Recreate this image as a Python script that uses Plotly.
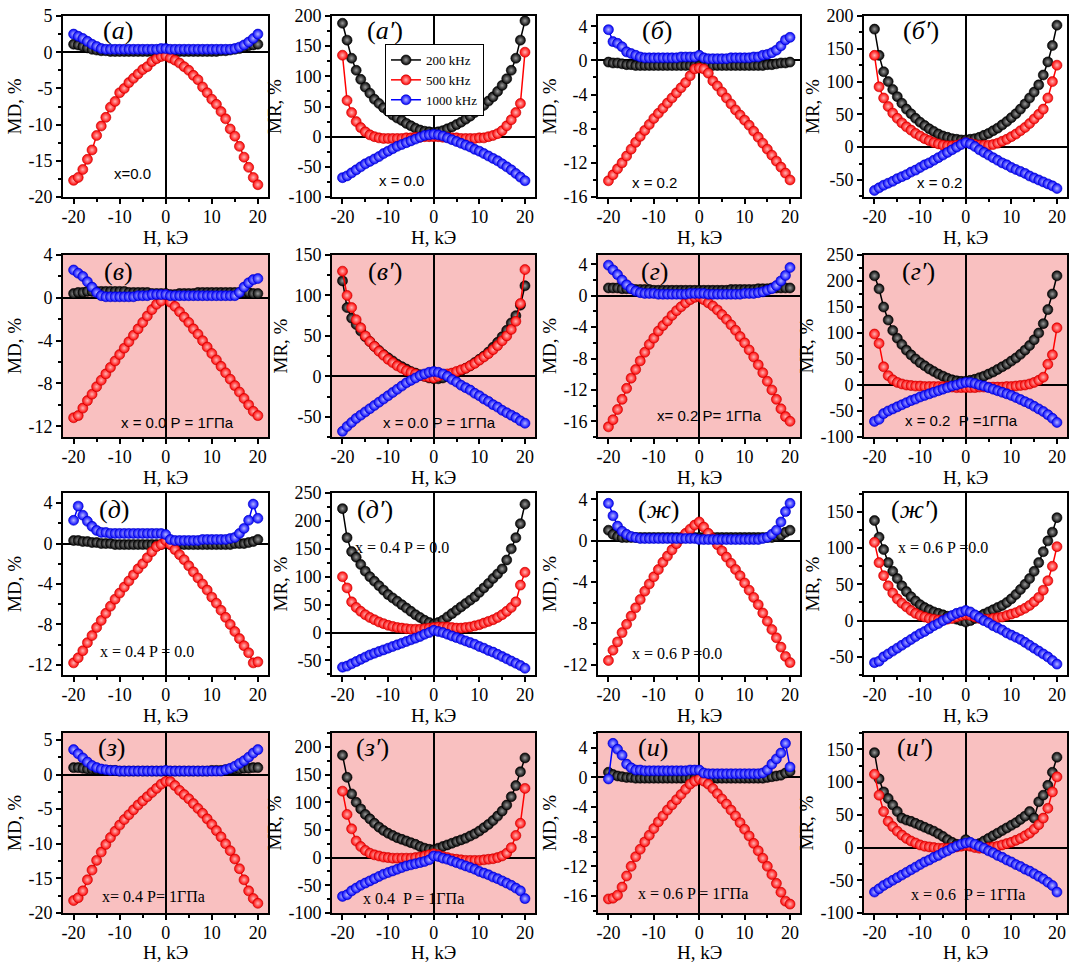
import plotly.graph_objects as go
from plotly.subplots import make_subplots

# ---------------- data ----------------
H = [-20, -19, -18, -17, -16, -15, -14, -13, -12, -11,
     -10, -9, -8, -7, -6, -5, -4, -3, -2, -1,
     0, 1, 2, 3, 4, 5, 6, 7, 8, 9,
     10, 11, 12, 13, 14, 15, 16, 17, 18, 19, 20]

SERIES = ["200 kHz", "500 kHz", "1000 kHz"]

# (a) MD x=0.0
a_200 = [1.1, 1.0, 0.8, 0.6, 0.4, 0.3, 0.2, 0.2, 0.1, 0.1,
         0.1, 0.1, 0.1, 0.1, 0.1, 0.1, 0.1, 0.1, 0.1, 0.1,
         0.1, 0.1, 0.1, 0.1, 0.1, 0.1, 0.1, 0.1, 0.1, 0.1,
         0.1, 0.1, 0.2, 0.2, 0.3, 0.4, 0.5, 0.7, 0.9, 1.0, 1.1]
a_500 = [-17.7, -17.3, -16.2, -14.8, -13.5, -11.5, -10.2, -9.0, -7.6, -6.8,
         -5.6, -5.0, -4.2, -3.6, -3.0, -2.4, -2.0, -1.3, -0.9, -0.6,
         -0.5, -0.8, -1.1, -1.5, -2.0, -2.5, -3.2, -3.8, -4.8, -5.6,
         -6.5, -7.2, -8.2, -9.2, -10.6, -11.6, -13.0, -14.5, -15.9, -17.3, -18.3]
a_1000 = [2.5, 2.2, 1.9, 1.5, 1.1, 0.8, 0.5, 0.4, 0.4, 0.4,
          0.4, 0.4, 0.4, 0.4, 0.4, 0.4, 0.4, 0.4, 0.4, 0.5,
          0.5, 0.4, 0.4, 0.4, 0.4, 0.4, 0.4, 0.4, 0.4, 0.4,
          0.4, 0.4, 0.4, 0.4, 0.4, 0.5, 0.7, 1.0, 1.4, 1.9, 2.5]
# (a') MR x=0.0
ap_200 = [188, 160, 130, 110, 95, 82, 72, 62, 55, 48,
          42, 36, 31, 27, 22, 18, 14, 11, 9, 8,
          7, 8, 10, 13, 16, 20, 24, 29, 34, 40,
          46, 52, 59, 66, 75, 85, 96, 110, 130, 160, 192]
ap_500 = [135, 60, 40, 25, 15, 8, 3, 0, -2, -3,
          -3, -3, -3, -3, -2, -2, -1, -1, 0, 0,
          0, 0, -1, -1, -2, -2, -3, -3, -3, -3,
          -2, -2, 0, 2, 5, 10, 18, 28, 40, 55, 140]
ap_1000 = [-68, -65, -60, -55, -50, -45, -41, -37, -33, -28,
           -24, -20, -16, -13, -10, -7, -4, -1, 2, 3,
           4, 3, 1, -2, -5, -8, -11, -14, -17, -21,
           -24, -28, -32, -36, -40, -45, -50, -55, -61, -67, -73]
# (б) MD x=0.2
b_200 = [-0.2, -0.3, -0.3, -0.4, -0.5, -0.5, -0.6, -0.6, -0.6, -0.6,
         -0.6, -0.6, -0.6, -0.6, -0.6, -0.6, -0.6, -0.6, -0.6, -0.6,
         -0.6, -0.6, -0.6, -0.6, -0.6, -0.6, -0.6, -0.6, -0.6, -0.6,
         -0.6, -0.6, -0.6, -0.6, -0.6, -0.5, -0.5, -0.4, -0.3, -0.3, -0.2]
b_500 = [-14.1, -13.4, -12.7, -12.0, -11.2, -10.4, -9.6, -8.9, -8.2, -7.5,
         -6.8, -6.2, -5.6, -5.0, -4.4, -3.8, -3.2, -2.6, -1.8, -1.0,
         -0.9, -1.0, -1.5, -2.4, -3.0, -3.7, -4.4, -5.1, -5.8, -6.4,
         -7.0, -7.6, -8.3, -9.0, -9.7, -10.4, -11.1, -11.8, -12.5, -13.2, -14.0]
b_1000 = [3.6, 2.2, 2.0, 1.6, 1.0, 0.8, 0.6, 0.4, 0.3, 0.3,
          0.3, 0.3, 0.3, 0.3, 0.3, 0.3, 0.4, 0.4, 0.4, 0.4,
          0.6, 0.3, 0.2, 0.2, 0.2, 0.2, 0.2, 0.3, 0.3, 0.3,
          0.3, 0.3, 0.4, 0.4, 0.6, 0.7, 0.9, 1.2, 1.7, 2.4, 2.7]
# (б') MR x=0.2
bp_200 = [180, 140, 115, 100, 88, 77, 67, 58, 51, 44,
          38, 33, 28, 24, 20, 17, 15, 13, 12, 11,
          11, 12, 13, 15, 18, 21, 25, 29, 34, 39,
          45, 51, 58, 66, 75, 84, 95, 110, 130, 155, 186]
bp_500 = [140, 92, 75, 62, 52, 44, 37, 31, 26, 21,
          17, 13, 10, 7, 5, 3, 2, 2, 3, 5,
          7, 6, 4, 3, 3, 3, 4, 6, 9, 12,
          16, 20, 25, 30, 36, 43, 50, 58, 75, 100, 125]
bp_1000 = [-66, -62, -58, -55, -52, -48, -45, -42, -38, -35,
           -31, -27, -24, -20, -16, -12, -8, -4, 0, 4,
           7, 5, 1, -4, -8, -12, -16, -20, -24, -27,
           -31, -34, -37, -40, -44, -47, -50, -53, -56, -59, -63]
# (в) MD x=0.0 P=1GPa
v_200 = [0.4, 0.5, 0.5, 0.6, 0.6, 0.6, 0.6, 0.6, 0.6, 0.6,
         0.6, 0.6, 0.5, 0.5, 0.5, 0.5, 0.5, 0.4, 0.4, 0.4,
         0.4, 0.3, 0.3, 0.4, 0.4, 0.4, 0.4, 0.5, 0.5, 0.5,
         0.5, 0.5, 0.5, 0.5, 0.5, 0.5, 0.5, 0.5, 0.5, 0.4, 0.4]
v_500 = [-11.2, -11.0, -10.3, -9.6, -9.0, -8.3, -7.7, -7.1, -6.5, -5.9,
         -5.3, -4.7, -4.1, -3.5, -2.9, -2.3, -1.7, -1.1, -0.6, -0.3,
         0.3, -0.4, -0.8, -1.3, -1.8, -2.3, -2.9, -3.4, -4.0, -4.6,
         -5.2, -5.8, -6.4, -7.0, -7.6, -8.2, -8.8, -9.4, -10.0, -10.6, -11.0]
v_1000 = [2.6, 2.3, 2.0, 1.5, 1.0, 0.5, 0.2, 0.1, 0.1, 0.1,
          0.1, 0.1, 0.1, 0.1, 0.2, 0.2, 0.2, 0.3, 0.3, 0.3,
          0.3, 0.2, 0.2, 0.2, 0.2, 0.2, 0.2, 0.2, 0.2, 0.2,
          0.2, 0.2, 0.2, 0.2, 0.2, 0.2, 0.5, 1.0, 1.4, 1.7, 1.8]
# (в') MR x=0.0 P=1GPa
vp_200 = [118, 85, 72, 64, 56, 49, 43, 37, 32, 27,
          23, 19, 15, 12, 9, 6, 4, 2, 0, -2,
          -3, -3, -2, 0, 2, 4, 7, 10, 13, 17,
          21, 25, 30, 36, 42, 49, 57, 66, 75, 88, 112]
vp_500 = [130, 100, 85, 70, 60, 50, 43, 37, 31, 26,
          21, 17, 13, 10, 7, 5, 3, 1, 0, -1,
          -2, 0, 2, 3, 4, 6, 8, 10, 13, 16,
          20, 24, 28, 33, 38, 44, 50, 58, 68, 90, 132]
vp_1000 = [-68, -62, -57, -52, -48, -44, -40, -36, -32, -28,
           -24, -20, -16, -12, -8, -5, -2, 1, 3, 5,
           6, 5, 3, 0, -4, -7, -11, -14, -17, -21,
           -24, -28, -31, -35, -38, -42, -45, -48, -51, -55, -58]
# (г) MD x=0.2 P=1GPa
g_200 = [1.0, 1.0, 1.0, 0.9, 0.9, 0.9, 0.8, 0.8, 0.8, 0.8,
         0.7, 0.7, 0.7, 0.7, 0.7, 0.7, 0.7, 0.7, 0.7, 0.7,
         0.7, 0.7, 0.7, 0.7, 0.7, 0.7, 0.7, 0.8, 0.8, 0.8,
         0.8, 0.8, 0.8, 0.9, 0.9, 0.9, 1.0, 1.0, 1.0, 1.0, 1.0]
g_500 = [-16.7, -15.8, -14.5, -13.2, -11.8, -10.5, -9.4, -8.3, -7.2, -6.2,
         -5.4, -4.5, -3.8, -3.2, -2.5, -1.9, -1.4, -0.9, -0.5, -0.2,
         -0.1, -0.5, -0.9, -1.3, -1.8, -2.4, -3.0, -3.7, -4.4, -5.2,
         -6.0, -6.9, -7.8, -8.8, -9.8, -10.9, -12.0, -13.2, -14.4, -15.4, -16.0]
g_1000 = [3.9, 3.3, 2.7, 2.0, 1.4, 0.9, 0.6, 0.4, 0.3, 0.3,
          0.3, 0.2, 0.2, 0.2, 0.2, 0.2, 0.2, 0.2, 0.3, 0.3,
          0.3, 0.3, 0.2, 0.2, 0.2, 0.2, 0.2, 0.2, 0.2, 0.2,
          0.3, 0.3, 0.3, 0.4, 0.5, 0.7, 0.9, 1.3, 1.9, 2.6, 3.6]
# (г') MR x=0.2 P=1GPa
gp_200 = [210, 185, 150, 125, 105, 90, 78, 67, 58, 50,
          43, 37, 31, 26, 21, 17, 13, 10, 8, 7,
          7, 9, 11, 14, 17, 21, 25, 30, 35, 40,
          46, 52, 59, 67, 76, 87, 100, 118, 145, 175, 210]
gp_500 = [98, 80, 35, 18, 10, 5, 2, 0, -1, -2,
          -2, -3, -3, -3, -3, -3, -3, -4, -5, -5,
          -5, -5, -5, -4, -4, -4, -4, -4, -4, -3,
          -3, -2, -1, 0, 2, 5, 9, 15, 40, 58, 110]
gp_1000 = [-70, -66, -55, -50, -46, -42, -38, -34, -30, -27,
           -23, -20, -17, -14, -11, -8, -5, -2, 0, 3,
           5, 5, 3, 0, -2, -5, -8, -11, -14, -17,
           -20, -24, -28, -32, -36, -41, -46, -51, -57, -64, -72]
# (д) MD x=0.4 P=0
d_200 = [0.3, 0.3, 0.2, 0.2, 0.1, 0.1, 0.0, 0.0, 0.0, -0.1,
         -0.1, -0.1, -0.1, -0.1, -0.1, -0.1, -0.1, -0.1, -0.1, -0.1,
         0.0, -0.1, -0.1, -0.1, -0.1, -0.1, -0.1, -0.1, -0.1, -0.1,
         -0.1, -0.1, -0.1, -0.1, -0.1, 0.0, 0.0, 0.0, 0.1, 0.2, 0.4]
d_500 = [-11.8, -11.3, -10.6, -9.8, -9.1, -8.3, -7.6, -6.9, -6.2, -5.5,
         -4.9, -4.3, -3.7, -3.1, -2.5, -2.0, -1.4, -0.8, -0.3, -0.1,
         0.3, -0.1, -0.6, -1.1, -1.6, -2.2, -2.8, -3.4, -4.0, -4.6,
         -5.3, -5.9, -6.6, -7.3, -8.0, -8.7, -9.4, -10.1, -10.8, -11.8, -11.7]
d_1000 = [2.3, 3.7, 2.8, 2.2, 1.7, 1.3, 1.1, 1.1, 1.0, 1.0,
          1.0, 1.0, 1.0, 1.0, 1.0, 1.0, 1.0, 1.0, 1.0, 1.0,
          0.9, 0.4, 0.3, 0.3, 0.3, 0.3, 0.3, 0.3, 0.4, 0.4,
          0.4, 0.4, 0.4, 0.4, 0.5, 0.6, 1.0, 1.5, 2.3, 3.9, 2.5]
# (д') MR x=0.4 P=0
dp_200 = [222, 170, 145, 135, 122, 110, 100, 92, 84, 76,
          68, 62, 56, 50, 44, 38, 32, 27, 22, 18,
          15, 18, 22, 28, 34, 40, 46, 52, 58, 64,
          72, 80, 88, 97, 105, 114, 130, 150, 170, 195, 230]
dp_500 = [100, 80, 55, 45, 38, 32, 27, 23, 19, 16,
          13, 11, 9, 8, 7, 6, 6, 6, 7, 8,
          9, 10, 10, 10, 9, 8, 8, 9, 10, 12,
          14, 17, 20, 23, 27, 32, 38, 45, 55, 85, 108]
dp_1000 = [-62, -60, -56, -52, -48, -44, -40, -37, -34, -31,
           -28, -25, -22, -19, -16, -13, -10, -7, -3, 0,
           4, 2, 0, -3, -6, -9, -12, -15, -18, -21,
           -25, -28, -32, -35, -39, -43, -47, -51, -55, -59, -64]
# (ж) MD x=0.6 P=0
zh_200 = [1.0, 0.6, 0.4, 0.3, 0.3, 0.3, 0.3, 0.3, 0.3, 0.3,
          0.3, 0.3, 0.3, 0.3, 0.3, 0.3, 0.3, 0.3, 0.3, 0.3,
          0.3, 0.3, 0.3, 0.3, 0.3, 0.3, 0.3, 0.3, 0.3, 0.3,
          0.3, 0.3, 0.3, 0.3, 0.3, 0.3, 0.3, 0.4, 0.5, 0.8, 1.0]
zh_500 = [-11.6, -10.6, -9.8, -8.9, -8.1, -7.3, -6.5, -5.7, -4.9, -4.2,
          -3.5, -2.8, -2.1, -1.5, -0.9, -0.3, 0.2, 0.7, 1.1, 1.5,
          1.8, 1.3, 0.7, 0.2, -0.4, -1.0, -1.6, -2.2, -2.8, -3.4,
          -4.1, -4.8, -5.5, -6.2, -7.0, -7.8, -8.6, -9.4, -10.3, -11.2, -11.8]
zh_1000 = [3.6, 2.4, 1.4, 0.9, 0.6, 0.4, 0.3, 0.2, 0.2, 0.2,
           0.2, 0.2, 0.2, 0.2, 0.2, 0.2, 0.2, 0.2, 0.2, 0.2,
           0.1, 0.1, 0.1, 0.1, 0.1, 0.1, 0.1, 0.1, 0.1, 0.1,
           0.1, 0.1, 0.1, 0.1, 0.2, 0.3, 0.6, 1.0, 1.8, 2.8, 3.6]
# (ж') MR x=0.6 P=0
zhp_200 = [138, 115, 98, 80, 68, 58, 48, 40, 33, 27,
           22, 18, 15, 12, 10, 8, 6, 4, 2, 0,
           -2, 0, 3, 6, 9, 12, 15, 18, 21, 25,
           30, 36, 43, 50, 58, 68, 80, 95, 110, 122, 142]
zhp_500 = [108, 80, 62, 48, 38, 30, 24, 19, 14, 10,
           7, 5, 3, 2, 1, 1, 2, 3, 5, 7,
           8, 7, 5, 3, 2, 2, 3, 4, 5, 7,
           9, 11, 14, 17, 21, 26, 32, 42, 55, 75, 102]
zhp_1000 = [-58, -56, -50, -46, -42, -38, -34, -30, -26, -22,
            -18, -15, -11, -7, -4, 0, 3, 7, 10, 12,
            14, 12, 8, 4, 0, -3, -7, -10, -13, -17,
            -20, -23, -26, -30, -34, -38, -42, -46, -50, -55, -60]
# (з) MD x=0.4 P=1GPa
z_200 = [1.0, 1.0, 0.9, 0.8, 0.8, 0.7, 0.7, 0.6, 0.6, 0.6,
         0.5, 0.5, 0.5, 0.5, 0.5, 0.5, 0.5, 0.5, 0.5, 0.5,
         0.5, 0.5, 0.5, 0.5, 0.5, 0.5, 0.5, 0.5, 0.5, 0.5,
         0.6, 0.6, 0.6, 0.7, 0.7, 0.8, 0.8, 0.9, 0.9, 1.0, 1.0]
z_500 = [-18.2, -17.8, -16.8, -15.2, -13.8, -12.4, -11.2, -10.1, -9.1, -8.2,
         -7.3, -6.5, -5.8, -5.1, -4.4, -3.8, -3.2, -2.6, -2.0, -1.4,
         -1.0, -1.0, -1.6, -2.3, -2.9, -3.5, -4.2, -4.9, -5.6, -6.4,
         -7.2, -8.1, -9.0, -10.0, -11.0, -12.2, -13.6, -15.2, -16.8, -17.9, -18.6]
z_1000 = [3.6, 3.0, 2.4, 1.8, 1.3, 1.0, 0.8, 0.7, 0.6, 0.6,
          0.5, 0.5, 0.5, 0.5, 0.5, 0.5, 0.5, 0.5, 0.5, 0.5,
          0.6, 0.5, 0.5, 0.5, 0.5, 0.5, 0.5, 0.5, 0.5, 0.5,
          0.5, 0.5, 0.5, 0.7, 0.9, 1.2, 1.6, 2.0, 2.5, 3.1, 3.6]
# (з') MR x=0.4 P=1GPa
zp_200 = [185, 145, 115, 100, 88, 78, 70, 62, 55, 49,
          44, 40, 36, 33, 30, 27, 24, 20, 17, 15,
          14, 17, 20, 23, 26, 29, 32, 35, 39, 43,
          48, 54, 60, 67, 75, 84, 95, 110, 130, 155, 180]
zp_500 = [120, 78, 52, 30, 20, 13, 8, 5, 3, 1,
          0, -1, -1, -1, -1, -1, 0, 1, 3, 5,
          7, 5, 2, 0, -2, -3, -4, -5, -5, -5,
          -5, -4, -3, -2, 0, 3, 8, 18, 40, 62, 125]
zp_1000 = [-70, -67, -60, -55, -50, -46, -42, -38, -34, -30,
           -27, -24, -21, -18, -15, -13, -11, -9, -7, -4,
           3, 2, -1, -3, -6, -9, -12, -15, -18, -21,
           -25, -28, -31, -35, -38, -42, -46, -50, -55, -60, -74]
# (и) MD x=0.6 P=1GPa
i_200 = [0.7, 0.4, 0.2, 0.1, 0.0, 0.0, -0.1, -0.1, -0.1, -0.1,
         -0.1, -0.1, -0.1, -0.1, -0.1, -0.1, -0.1, -0.1, -0.1, -0.1,
         -0.1, -0.1, -0.1, -0.1, -0.1, -0.1, -0.1, -0.1, -0.1, -0.1,
         -0.1, -0.1, -0.1, -0.1, -0.1, 0.0, 0.1, 0.2, 0.3, 0.6, 0.8]
i_500 = [-16.4, -16.3, -15.9, -14.8, -13.3, -12.0, -10.7, -9.7, -8.7, -7.8,
         -6.9, -6.0, -5.2, -4.4, -3.7, -3.0, -2.3, -1.6, -0.9, -0.5,
         -0.2, -0.5, -0.9, -1.5, -2.2, -2.9, -3.6, -4.4, -5.2, -6.1,
         -7.0, -7.9, -8.9, -9.9, -10.9, -12.0, -13.1, -14.3, -15.5, -16.7, -17.1]
i_1000 = [-0.2, 4.6, 3.8, 3.0, 1.8, 1.3, 1.0, 1.0, 0.9, 0.9,
          0.9, 0.9, 0.9, 0.9, 0.9, 0.9, 0.9, 0.9, 1.0, 1.0,
          1.0, 0.6, 0.5, 0.5, 0.5, 0.5, 0.5, 0.5, 0.5, 0.5,
          0.5, 0.5, 0.5, 0.5, 0.6, 1.0, 1.8, 2.5, 3.3, 4.6, 1.4]
# (и') MR x=0.6 P=1GPa
ip_200 = [145, 105, 85, 75, 65, 55, 45, 42, 40, 37,
          34, 31, 28, 25, 21, 17, 12, 8, 5, 3,
          12, 5, 3, 6, 10, 14, 18, 22, 26, 30,
          34, 38, 43, 48, 55, 45, 70, 80, 95, 115, 138]
ip_500 = [112, 80, 55, 40, 32, 25, 19, 14, 10, 7,
          4, 2, 1, 0, -1, -1, -1, 0, 1, 2,
          3, 2, 0, -1, -1, 0, 1, 2, 4, 6,
          8, 11, 14, 18, 22, 28, 35, 45, 60, 85, 108]
ip_1000 = [-68, -63, -58, -54, -50, -46, -42, -38, -34, -30,
           -26, -22, -19, -15, -12, -8, -5, -1, 2, 5,
           7, 8, 5, 2, -1, -5, -8, -12, -15, -19,
           -22, -26, -29, -33, -36, -40, -44, -48, -53, -58, -68]

X_TICKS = [-20, -10, 0, 10, 20]
X_TICK_LABELS = ["-20", "-10", "0", "10", "20"]
X_TITLE = "H, kЭ"
Y_TICKS_5 = [-20, -15, -10, -5, 0, 5]
Y_TICKS_4A = [-16, -12, -8, -4, 0, 4]
Y_TICKS_4B = [-12, -8, -4, 0, 4]
Y_TICKS_50A = [-100, -50, 0, 50, 100, 150, 200]
Y_TICKS_50B = [-50, 0, 50, 100, 150, 200]
Y_TICKS_50C = [-50, 0, 50, 100, 150]
Y_TICKS_50D = [-100, -50, 0, 50, 100, 150, 200, 250]
Y_TICKS_50E = [-50, 0, 50, 100, 150, 200, 250]
Y_TICKS_50F = [-100, -50, 0, 50, 100, 150]

# ---------------- panel configuration ----------------
SANS = "Liberation Sans, Arial, sans-serif"
SERIF = "Liberation Serif, Times New Roman, serif"

panels = [
    dict(ys=(a_200, a_500, a_1000), lab="(<i>а</i>)", yt="MD, %", yr=[-20, 5], tv=Y_TICKS_5, md=2.5,
         note="x=0.0", nf=SANS, nx=0.34, ny=0.13, lx=0.27, ly=0.92, pink=False),
    dict(ys=(ap_200, ap_500, ap_1000), lab="(<i>а′</i>)", yt="MR, %", yr=[-100, 200], tv=Y_TICKS_50A, md=25,
         note="x = 0.0", nf=SANS, nx=0.34, ny=0.09, lx=0.26, ly=0.92, pink=False),
    dict(ys=(b_200, b_500, b_1000), lab="(<i>б</i>)", yt="MD, %", yr=[-16, 5.2], tv=Y_TICKS_4A, md=2,
         note="x = 0.2", nf=SANS, nx=0.28, ny=0.08, lx=0.29, ly=0.92, pink=False),
    dict(ys=(bp_200, bp_500, bp_1000), lab="(<i>б′</i>)", yt="MR, %", yr=[-76, 200], tv=Y_TICKS_50B, md=25,
         note="x = 0.2", nf=SANS, nx=0.37, ny=0.08, lx=0.28, ly=0.92, pink=False),
    dict(ys=(v_200, v_500, v_1000), lab="(<i>в</i>)", yt="MD, %", yr=[-13, 4], tv=Y_TICKS_4B, md=2,
         note="x = 0.0 P = 1ГПа", nf=SANS, nx=0.56, ny=0.08, lx=0.27, ly=0.91, pink=True),
    dict(ys=(vp_200, vp_500, vp_1000), lab="(<i>в′</i>)", yt="MR, %", yr=[-75, 150], tv=Y_TICKS_50C, md=25,
         note="x = 0.0 P = 1ГПа", nf=SANS, nx=0.53, ny=0.08, lx=0.26, ly=0.91, pink=True),
    dict(ys=(g_200, g_500, g_1000), lab="(<i>г</i>)", yt="MD, %", yr=[-18, 5.2], tv=Y_TICKS_4A, md=2,
         note="x= 0.2 P= 1ГПа", nf=SANS, nx=0.55, ny=0.12, lx=0.28, ly=0.91, pink=True),
    dict(ys=(gp_200, gp_500, gp_1000), lab="(<i>г′</i>)", yt="MR, %", yr=[-100, 250], tv=Y_TICKS_50D, md=25,
         note="x = 0.2\u00a0 P =1ГПа", nf=SANS, nx=0.48, ny=0.09, lx=0.27, ly=0.91, pink=True),
    dict(ys=(d_200, d_500, d_1000), lab="(<i>д</i>)", yt="MD, %", yr=[-13, 5], tv=Y_TICKS_4B, md=2,
         note="x = 0.4 P = 0.0", nf=SERIF, nx=0.41, ny=0.13, lx=0.25, ly=0.91, pink=False),
    dict(ys=(dp_200, dp_500, dp_1000), lab="(<i>д′</i>)", yt="MR, %", yr=[-76, 250], tv=Y_TICKS_50E, md=25,
         note="x = 0.4 P = 0.0", nf=SERIF, nx=0.345, ny=0.70, lx=0.21, ly=0.91, pink=False),
    dict(ys=(zh_200, zh_500, zh_1000), lab="(<i>ж</i>)", yt="MD, %", yr=[-13, 4.6], tv=Y_TICKS_4B, md=2,
         note="x = 0.6 P =0.0", nf=SERIF, nx=0.39, ny=0.12, lx=0.30, ly=0.91, pink=False),
    dict(ys=(zhp_200, zhp_500, zhp_1000), lab="(<i>ж′</i>)", yt="MR, %", yr=[-75, 176], tv=Y_TICKS_50C, md=25,
         note="x = 0.6 P =0.0", nf=SERIF, nx=0.39, ny=0.70, lx=0.25, ly=0.91, pink=False),
    dict(ys=(z_200, z_500, z_1000), lab="(<i>з</i>)", yt="MD, %", yr=[-20, 6], tv=Y_TICKS_5, md=2.5,
         note="x= 0.4 P= 1ГПа", nf=SERIF, nx=0.44, ny=0.09, lx=0.24, ly=0.92, pink=True),
    dict(ys=(zp_200, zp_500, zp_1000), lab="(<i>з′</i>)", yt="MR, %", yr=[-100, 225], tv=Y_TICKS_50A, md=25,
         note="x 0.4\u00a0 P = 1ГПа", nf=SERIF, nx=0.40, ny=0.08, lx=0.20, ly=0.92, pink=True),
    dict(ys=(i_200, i_500, i_1000), lab="(<i>и</i>)", yt="MD, %", yr=[-18.3, 6], tv=Y_TICKS_4A, md=2,
         note="x = 0.6 P = 1ГПа", nf=SERIF, nx=0.47, ny=0.11, lx=0.27, ly=0.92, pink=True),
    dict(ys=(ip_200, ip_500, ip_1000), lab="(<i>и′</i>)", yt="MR, %", yr=[-100, 175], tv=Y_TICKS_50F, md=25,
         note="x = 0.6\u00a0 P = 1ГПа", nf=SERIF, nx=0.51, ny=0.105, lx=0.25, ly=0.92, pink=True),
]

# ---------------- layout geometry ----------------
W, HT = 1075, 963
COL_L = [63, 332, 598, 864]
COL_W = [205, 203, 202, 203]
ROW_T = [16, 255, 493, 733]
ROW_H = [181, 182, 182, 180]
XTITLE_OFFSET = 40  # px from plot bottom to title centre
PINK = "#F9C0C0"

STYLES = [("#000000", "#9a9a9a", "#000000"),
          ("#ff0000", "#ffb4b4", "#c00000"),
          ("#0000ff", "#b4b4ff", "#0000c0")]

fig = make_subplots(rows=4, cols=4)

annotations = []
shapes = []
for k, p in enumerate(panels):
    r, c = k // 4 + 1, k % 4 + 1
    n = k + 1
    xa = "x" if n == 1 else f"x{n}"
    ya = "y" if n == 1 else f"y{n}"
    for j, name in enumerate(SERIES):
        col, hi, dark = STYLES[j]
        fig.add_trace(go.Scatter(
            x=H, y=p["ys"][j], mode="lines+markers", name=name,
            showlegend=(k == 1),
            line=dict(color=col, width=1.5),
            marker=dict(size=10, color=col, gradient=dict(type="radial", color=hi),
                        line=dict(color=dark, width=0.6)),
        ), row=r, col=c)
    x0 = COL_L[c - 1] / W
    x1 = (COL_L[c - 1] + COL_W[c - 1]) / W
    y1 = 1 - ROW_T[r - 1] / HT
    y0 = 1 - (ROW_T[r - 1] + ROW_H[r - 1]) / HT
    fig.update_xaxes(
        domain=[x0, x1], range=[-22.3, 22.2], tickmode="array",
        tickvals=X_TICKS, ticktext=X_TICK_LABELS,
        ticks="outside", ticklen=5, tickwidth=1.5, tickcolor="black", ticklabelstandoff=-3,
        minor=dict(dtick=5, tick0=0, ticks="outside", ticklen=3, tickwidth=1.5, tickcolor="black", showgrid=False),
        showline=True, linecolor="black", linewidth=2, mirror=True,
        showgrid=False, zeroline=True, zerolinecolor="black", zerolinewidth=2,
        tickfont=dict(family=SERIF, size=18, color="black"),
        automargin=False, row=r, col=c)
    fig.update_yaxes(
        domain=[y0, y1], range=p["yr"], tickmode="array",
        tickvals=p["tv"], ticktext=[str(v) for v in p["tv"]],
        ticks="outside", ticklen=5, tickwidth=1.5, tickcolor="black",
        minor=dict(dtick=p["md"], tick0=0, ticks="outside", ticklen=3, tickwidth=1.5, tickcolor="black", showgrid=False),
        showline=True, linecolor="black", linewidth=2, mirror=True,
        showgrid=False, zeroline=True, zerolinecolor="black", zerolinewidth=2,
        tickfont=dict(family=SERIF, size=18, color="black"),
        title=dict(text=p["yt"], font=dict(family=SERIF, size=19, color="black"), standoff=2),
        automargin=False, row=r, col=c)
    if p["pink"]:
        shapes.append(dict(type="rect", xref=f"{xa} domain", yref=f"{ya} domain",
                           x0=0, x1=1, y0=0, y1=1, fillcolor=PINK, line=dict(width=0), layer="below"))
    annotations.append(dict(text=X_TITLE, xref=f"{xa} domain", yref=f"{ya} domain",
                            x=0.5, y=-XTITLE_OFFSET / ROW_H[r - 1], showarrow=False,
                            xanchor="center", yanchor="middle",
                            font=dict(family=SERIF, size=19, color="black")))
    annotations.append(dict(text=p["lab"], xref=f"{xa} domain", yref=f"{ya} domain",
                            x=p["lx"], y=p["ly"], showarrow=False, xanchor="center", yanchor="middle",
                            font=dict(family=SERIF, size=26, color="black")))
    annotations.append(dict(text=p["note"], xref=f"{xa} domain", yref=f"{ya} domain",
                            x=p["nx"], y=p["ny"], showarrow=False, xanchor="center", yanchor="middle",
                            font=dict(family=p["nf"], size=15 if p["nf"] == SANS else 16, color="black")))

fig.update_layout(
    width=W, height=HT, margin=dict(l=0, r=0, t=0, b=0),
    paper_bgcolor="white", plot_bgcolor="white",
    shapes=shapes, annotations=annotations,
    legend=dict(x=385 / W, y=1 - 44 / HT, xanchor="left", yanchor="top",
                bgcolor="white", bordercolor="black", borderwidth=1,
                font=dict(family=SERIF, size=13, color="black"),
                itemwidth=30, tracegroupgap=0),
)

fig.write_html("out.html")
